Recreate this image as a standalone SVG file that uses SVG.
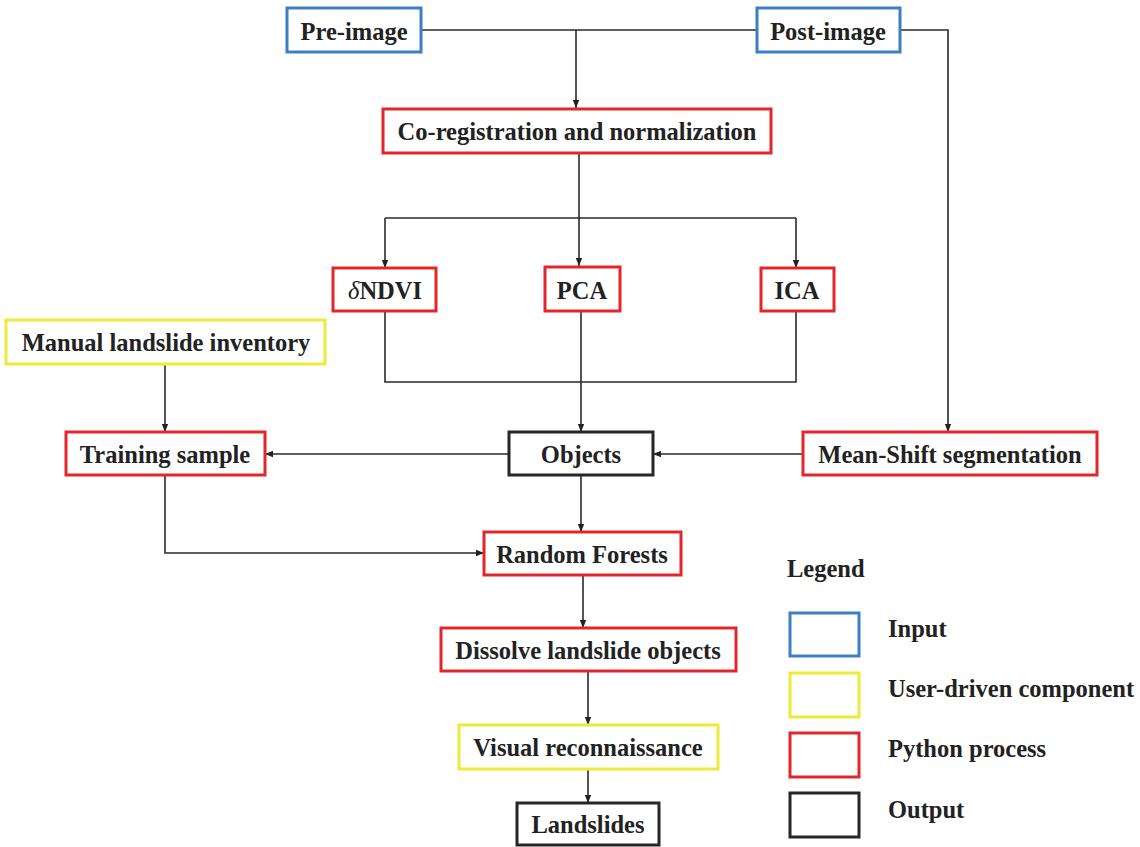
<svg xmlns="http://www.w3.org/2000/svg" width="1140" height="847" viewBox="0 0 1140 847">
<defs>
<marker id="ah" viewBox="0 0 10 10" refX="10" refY="5" markerWidth="8" markerHeight="8" markerUnits="userSpaceOnUse" orient="auto">
<path d="M0,1 L10,5 L0,9 z" fill="#222"/>
</marker>
<style>
.box{fill:#fff;stroke-width:3}
.in{stroke:#3d7fc4}
.us{stroke:#eeea3a}
.py{stroke:#e3262b}
.out{stroke:#262626}
text{font-family:'Liberation Serif','Times New Roman','DejaVu Serif',serif;font-weight:bold;font-size:24.5px;fill:#222}
.t{text-anchor:middle;dominant-baseline:central}
.c{fill:none;stroke:#2a2a2a;stroke-width:1.6}
</style>
</defs>
<rect width="1140" height="847" fill="#fff"/>
<g id="connectors">
<path class="c" d="M421,30 H757"/>
<path class="c" d="M576,30 V108" marker-end="url(#ah)"/>
<path class="c" d="M900,30 H948 V432" marker-end="url(#ah)"/>
<path class="c" d="M579,153 V266" marker-end="url(#ah)"/>
<path class="c" d="M385,218 H796"/>
<path class="c" d="M385,218 V268" marker-end="url(#ah)"/>
<path class="c" d="M796,218 V268" marker-end="url(#ah)"/>
<path class="c" d="M385,311 V382 H796 V311"/>
<path class="c" d="M581,311 V432" marker-end="url(#ah)"/>
<path class="c" d="M165,364 V432" marker-end="url(#ah)"/>
<path class="c" d="M509,454 H265" marker-end="url(#ah)"/>
<path class="c" d="M803,454 H653" marker-end="url(#ah)"/>
<path class="c" d="M165,475 V553 H484" marker-end="url(#ah)"/>
<path class="c" d="M581,475 V532" marker-end="url(#ah)"/>
<path class="c" d="M583,575 V628" marker-end="url(#ah)"/>
<path class="c" d="M588,671 V725" marker-end="url(#ah)"/>
<path class="c" d="M588,769 V803" marker-end="url(#ah)"/>
</g>
<g id="pre-image"><rect class="box in" x="287" y="8" width="134" height="44"/><text class="t" x="354" y="31">Pre-image</text></g>
<g id="post-image"><rect class="box in" x="757" y="8" width="143" height="44"/><text class="t" x="828" y="31">Post-image</text></g>
<g id="coreg"><rect class="box py" x="383" y="109" width="388" height="44"/><text class="t" x="577" y="131">Co-registration and normalization</text></g>
<g id="dndvi"><rect class="box py" x="333" y="268" width="103" height="43"/><text class="t" x="385" y="290"><tspan font-style="italic" font-weight="normal">δ</tspan>NDVI</text></g>
<g id="pca"><rect class="box py" x="545" y="267" width="75" height="44"/><text class="t" x="582" y="290">PCA</text></g>
<g id="ica"><rect class="box py" x="761" y="268" width="73" height="43"/><text class="t" x="797" y="290">ICA</text></g>
<g id="manual"><rect class="box us" x="6" y="320" width="319" height="44"/><text class="t" x="166" y="342">Manual landslide inventory</text></g>
<g id="training"><rect class="box py" x="66" y="432" width="199" height="43"/><text class="t" x="165" y="454">Training sample</text></g>
<g id="objects"><rect class="box out" x="509" y="432" width="144" height="43"/><text class="t" x="581" y="454">Objects</text></g>
<g id="meanshift"><rect class="box py" x="803" y="432" width="294" height="43"/><text class="t" x="950" y="454">Mean-Shift segmentation</text></g>
<g id="rf"><rect class="box py" x="484" y="532" width="197" height="43"/><text class="t" x="582" y="554">Random Forests</text></g>
<g id="dissolve"><rect class="box py" x="441" y="628" width="295" height="43"/><text class="t" x="588" y="650">Dissolve landslide objects</text></g>
<g id="visual"><rect class="box us" x="459" y="725" width="259" height="44"/><text class="t" x="588" y="747">Visual reconnaissance</text></g>
<g id="landslides"><rect class="box out" x="517" y="803" width="142" height="42"/><text class="t" x="588" y="824">Landslides</text></g>
<g id="legend">
<text x="787" y="577">Legend</text>
<rect class="box in" x="790" y="613" width="69" height="43"/>
<rect class="box us" x="790" y="673" width="69" height="44"/>
<rect class="box py" x="790" y="733" width="69" height="44"/>
<rect class="box out" x="790" y="793" width="69" height="44"/>
<text x="888" y="637">Input</text>
<text x="888" y="697">User-driven component</text>
<text x="888" y="757">Python process</text>
<text x="888" y="818">Output</text>
</g>
</svg>
